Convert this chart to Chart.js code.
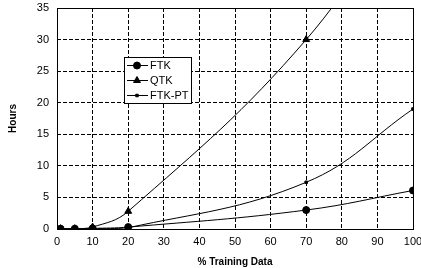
<!DOCTYPE html>
<html>
<head>
<meta charset="utf-8">
<script src="https://cdn.jsdelivr.net/npm/chart.js@4"></script>
<style>
  html, body { margin: 0; padding: 0; background: #fff; }
  canvas { display: block; }
</style>
</head>
<body>
<canvas id="grafico" width="421" height="268"></canvas>
<script>
const xValues = [1, 5, 10, 20, 70, 100];
const ftkHours = [0.05, 0.05, 0.1, 0.3, 3.0, 6.1];
const qtkHours = [0.05, 0.05, 0.3, 2.8, 30.0, 55.0];
const ftkptHours = [0.02, 0.03, 0.05, 0.2, 7.4, 19.0];
const seriesLabels = ['FTK', 'QTK', 'FTK-PT'];

function toPoints(ys) {
    return xValues.map(function(x, i) { return { x: x, y: ys[i] }; });
}

// leyenda dentro del area del grafico, como en el original
const cajaLeyenda = {
    id: 'cajaLeyenda',
    afterDraw: function(chart) {
        const ctx = chart.ctx;
        const left = 124, top = 57, w = 67, h = 46;
        ctx.save();
        ctx.fillStyle = '#fff';
        ctx.fillRect(left, top, w, h);
        ctx.strokeStyle = '#000';
        ctx.lineWidth = 1;
        ctx.setLineDash([]);
        ctx.strokeRect(left + 0.5, top + 0.5, w, h);
        ctx.font = '11px "Liberation Sans", Arial, sans-serif';
        ctx.textBaseline = 'middle';
        chart.data.datasets.forEach(function(ds, i) {
            const y = top + 8.5 + i * 15;
            ctx.strokeStyle = '#000';
            ctx.beginPath();
            ctx.moveTo(left + 3, y);
            ctx.lineTo(left + 24, y);
            ctx.stroke();
            ctx.fillStyle = '#000';
            Chart.helpers.drawPoint(ctx, {
                pointStyle: ds.pointStyle,
                radius: ds.pointRadius,
                borderWidth: 1
            }, left + 13, y);
            ctx.fillStyle = '#000';
            ctx.fillText(ds.label, left + 26, y + 0.5);
        });
        ctx.restore();
    }
};

const marco = {
    id: 'marco',
    afterDatasetsDraw: function(chart) {
        const a = chart.chartArea;
        const ctx = chart.ctx;
        ctx.save();
        ctx.strokeStyle = '#000';
        ctx.lineWidth = 1;
        ctx.setLineDash([]);
        ctx.strokeRect(Math.round(a.left) + 0.5, Math.round(a.top) + 0.5,
            Math.round(a.right - a.left), Math.round(a.bottom - a.top));
        ctx.restore();
    }
};

const comun = {
    borderColor: '#000',
    backgroundColor: '#000',
    borderWidth: 1,
    pointBorderWidth: 1,
    pointBorderColor: '#000',
    pointBackgroundColor: '#000',
    tension: 0.4,
    fill: false
};

const fuente = '"Liberation Sans", Arial, sans-serif';

document.addEventListener('DOMContentLoaded', function() {
    const ctx = document.getElementById('grafico').getContext('2d');
    new Chart(ctx, {
        type: 'line',
        data: {
            datasets: [
                Object.assign({ label: seriesLabels[0], data: toPoints(ftkHours), pointStyle: 'circle', pointRadius: 3.5 }, comun),
                Object.assign({ label: seriesLabels[1], data: toPoints(qtkHours), pointStyle: 'triangle', pointRadius: 4 }, comun),
                Object.assign({ label: seriesLabels[2], data: toPoints(ftkptHours), pointStyle: 'rect', pointRadius: 1.8 }, comun)
            ]
        },
        options: {
            responsive: false,
            animation: false,
            devicePixelRatio: 1,
            events: [],
            layout: { padding: 0 },
            plugins: {
                legend: { display: false },
                tooltip: { enabled: false }
            },
            scales: {
                x: {
                    type: 'linear',
                    min: 0,
                    max: 100,
                    ticks: {
                        stepSize: 10,
                        color: '#000',
                        padding: 6,
                        maxRotation: 0,
                        autoSkip: false,
                        font: { family: fuente, size: 11 }
                    },
                    grid: { color: '#000', lineWidth: 1, drawTicks: false },
                    border: { display: false, dash: [4, 2] },
                    title: {
                        display: true,
                        text: '% Training Data',
                        color: '#000',
                        padding: { top: 4, bottom: 0 },
                        font: { family: fuente, size: 10, weight: 'bold' }
                    },
                    afterFit: function(axis) {
                        axis.height = 39;
                        axis.paddingLeft = 0;
                        axis.paddingRight = 8;
                    }
                },
                y: {
                    min: 0,
                    max: 35,
                    ticks: {
                        stepSize: 5,
                        color: '#000',
                        padding: 8,
                        autoSkip: false,
                        font: { family: fuente, size: 11 }
                    },
                    grid: { color: '#000', lineWidth: 1, drawTicks: false },
                    border: { display: false, dash: [4, 2] },
                    title: {
                        display: true,
                        text: 'Hours',
                        color: '#000',
                        padding: { top: 7, bottom: 10 },
                        font: { family: fuente, size: 10, weight: 'bold' }
                    },
                    afterFit: function(axis) {
                        axis.width = 57;
                        axis.paddingTop = 8;
                        axis.paddingBottom = 0;
                    }
                }
            }
        },
        plugins: [marco, cajaLeyenda]
    });
});
</script>
</body>
</html>
